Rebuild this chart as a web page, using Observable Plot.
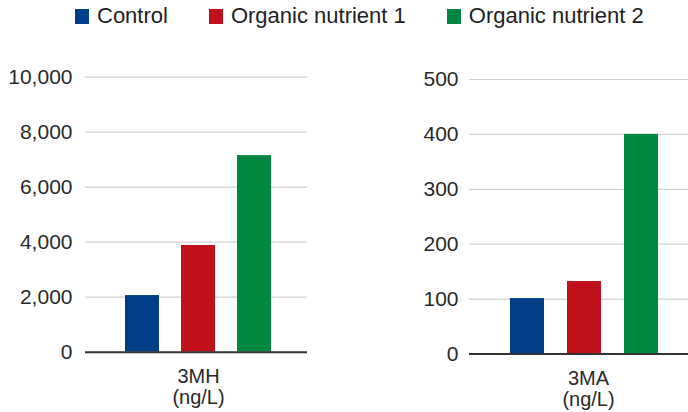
<!DOCTYPE html>
<html>
<head>
<meta charset="utf-8">
<script src="https://cdn.jsdelivr.net/npm/d3@7"></script>
<script src="https://cdn.jsdelivr.net/npm/@observablehq/plot@0.6"></script>
<style>
  body { margin: 0; background: #fff; font-family: "Liberation Sans", Arial, Helvetica, sans-serif; color: #222; }
  #legend { height: 34px; box-sizing: border-box; padding-top: 5px; padding-left: 75px; display: flex; align-items: flex-start; font-size: 22px; line-height: 22px; }
  .item { display: flex; align-items: flex-start; margin-right: 41px; white-space: nowrap; }
  .sw { width: 14px; height: 15px; margin-top: 4px; margin-right: 8px; }
  #charts { display: flex; }
</style>
</head>
<body>
<div id="legend"></div>
<div id="charts"></div>
<script>
const categories = ["Control", "Organic nutrient 1", "Organic nutrient 2"];
const colors = ["#003f87", "#c0111b", "#008641"];
const mhValues = [2060, 3880, 7150];
const maValues = [101, 132, 400];
const mhTicks = [0, 2000, 4000, 6000, 8000, 10000];
const maTicks = [0, 100, 200, 300, 400, 500];
const panelLabels = ["3MH\n(ng/L)", "3MA\n(ng/L)"];

const legend = document.getElementById("legend");
categories.forEach((c, i) => {
  const it = document.createElement("div");
  it.className = "item";
  const sw = document.createElement("div");
  sw.className = "sw";
  sw.style.background = colors[i];
  const t = document.createElement("span");
  t.textContent = c;
  it.appendChild(sw); it.appendChild(t);
  legend.appendChild(it);
});

function panel(values, ticks, label, opts) {
  const data = categories.map((c, i) => ({cat: c, value: values[i]}));
  return Plot.plot({
    width: opts.width,
    height: 378,
    marginLeft: opts.marginLeft,
    marginRight: opts.marginRight,
    marginTop: opts.marginTop,
    marginBottom: opts.marginBottom,
    style: {fontFamily: '"Liberation Sans", Arial, Helvetica, sans-serif', fontSize: "21px", color: "#2a2a2a", background: "#fff"},
    x: {domain: categories, paddingInner: opts.pi, paddingOuter: opts.po, align: opts.align, axis: null},
    y: {domain: [0, ticks[ticks.length - 1]], ticks: ticks, tickSize: 0, tickPadding: opts.tickPadding, label: null, tickFormat: d3.format(",")},
    color: {domain: categories, range: colors},
    marks: [
      Plot.ruleY(ticks.filter(d => d !== 0), {stroke: "#d2d2d2", strokeWidth: 1.2}),
      Plot.barY(data, {x: "cat", y: "value", fill: "cat"}),
      Plot.ruleY([0], {stroke: "#333", strokeWidth: 2}),
      Plot.text([label], {x: () => categories[1], y: () => 0, text: d => d, lineAnchor: "top", dy: 16, dx: opts.labelDx, fontSize: 20, lineHeight: 1.05, fill: "#2a2a2a"})
    ]
  });
}

const charts = document.getElementById("charts");
charts.appendChild(panel(mhValues, mhTicks, panelLabels[0], {width: 330, marginLeft: 85, marginRight: 23, marginTop: 42.7, marginBottom: 60.3, pi: 0.4, po: 0.664, align: 0.52, tickPadding: 13, labelDx: 0}));
charts.appendChild(panel(maValues, maTicks, panelLabels[1], {width: 358, marginLeft: 139, marginRight: 0, marginTop: 45, marginBottom: 58.5, pi: 0.404, po: 0.623, align: 0.577, tickPadding: 11, labelDx: 4}));
</script>
</body>
</html>
